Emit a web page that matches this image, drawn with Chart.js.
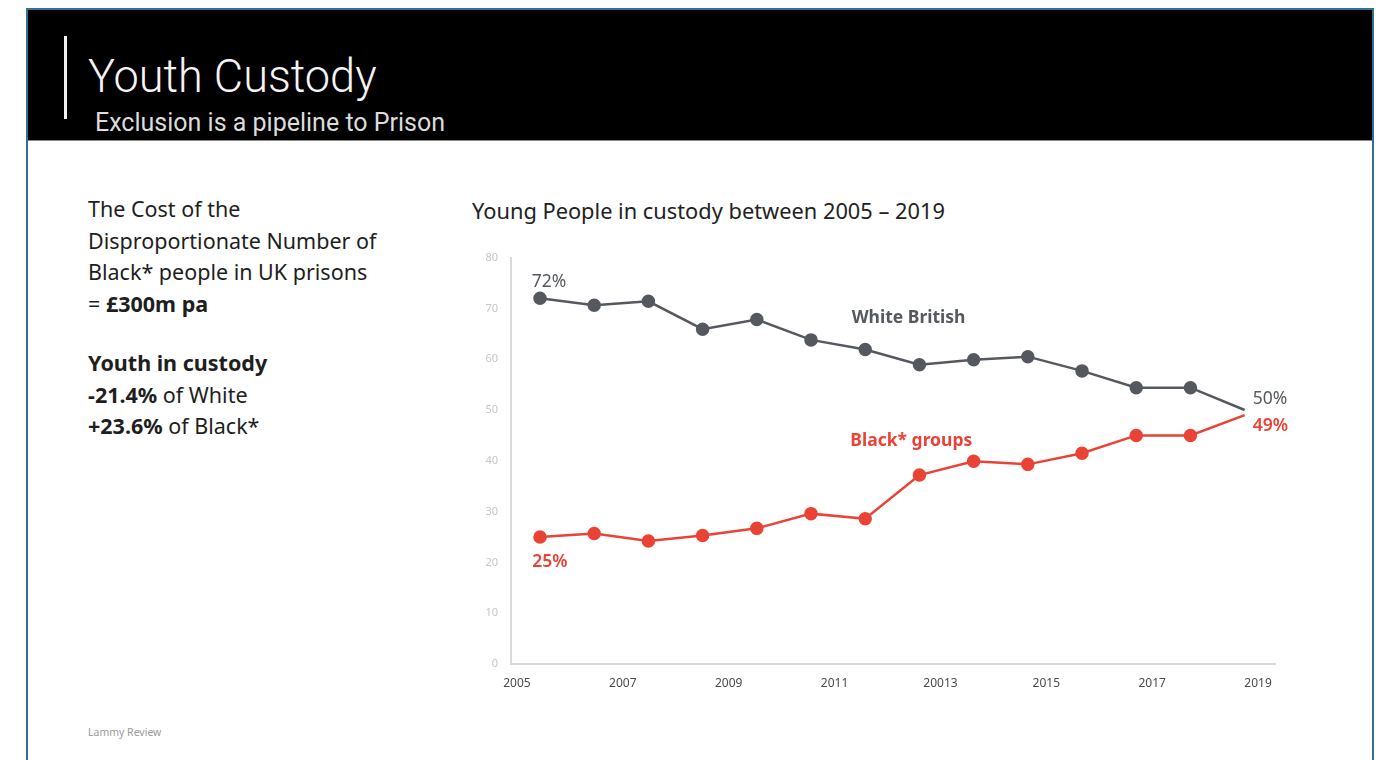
<!DOCTYPE html>
<html>
<head>
<meta charset="utf-8">
<title>Youth Custody</title>
<script src="https://cdn.jsdelivr.net/npm/chart.js@4.4.1/dist/chart.umd.min.js"></script>
<style>
  html, body { margin: 0; padding: 0; background: #fff; }
  body { width: 1389px; height: 760px; overflow: hidden; position: relative; font-family: "Noto Sans", sans-serif; }
  .frame { position: absolute; left: 26px; top: 8px; width: 1344px; height: 800px; border: 2px solid #2f7394; background: #fff; }
  .header { position: absolute; left: 0; top: 0; width: 100%; height: 130px; background: #000; border-bottom: 1px solid #8a8a8a; }
  .bar { position: absolute; left: 36px; top: 26px; width: 3px; height: 83px; background: #f2f2f2; }
  .title { position: absolute; left: 60px; top: 38px; color: #f4f4f4; font-family: Roboto, sans-serif; font-weight: 300; font-size: 46px; line-height: 56px; transform: scaleX(0.98); transform-origin: left top; white-space: nowrap; }
  .subtitle { position: absolute; left: 67px; top: 98px; color: #dcdcdc; font-family: Roboto, sans-serif; font-weight: 400; font-size: 25px; line-height: 30px; white-space: nowrap; }
  .side { position: absolute; left: 60px; top: 183px; color: #1e1e1e; font-size: 21.5px; line-height: 31.5px; white-space: nowrap; }
  .side b { font-weight: 700; }
  .side .gap { height: 28px; }
  .chart-title { position: absolute; left: 444px; top: 186px; color: #222; font-size: 21.8px; white-space: nowrap; }
  .source { position: absolute; left: 60px; top: 715px; color: #9a9a9a; font-size: 10.5px; }
  #custody { position: absolute; left: 442px; top: 228px; }
</style>
</head>
<body>
<div class="frame">
  <div class="header">
    <div class="bar"></div>
    <div class="title">Youth Custody</div>
    <div class="subtitle">Exclusion is a pipeline to Prison</div>
  </div>
  <div class="side">
    The Cost of the<br>
    Disproportionate Number of<br>
    Black* people in UK prisons<br>
    = <b>£300m pa</b>
    <div class="gap"></div>
    <b>Youth in custody</b><br>
    <b>-21.4%</b> of White<br>
    <b>+23.6%</b> of Black*
  </div>
  <div class="chart-title">Young People in custody between 2005 – 2019</div>
  <div class="source">Lammy Review</div>
  <canvas id="custody" width="840" height="459"></canvas>
</div>

<script>
// financial years covered by the custody figures
const periods = ['2005/06', '2006/07', '2007/08', '2008/09', '2009/10', '2010/11', '2011/12',
  '2012/13', '2013/14', '2014/15', '2015/16', '2016/17', '2017/18', '2018/19'];

// share of young people in custody (%)
const whiteBritish = [72, 70.6, 71.4, 65.9, 67.8, 63.8, 61.9, 58.9, 59.9, 60.5, 57.7, 54.4, 54.4, 50];
const blackGroups = [25, 25.7, 24.2, 25.3, 26.7, 29.6, 28.6, 37.2, 39.9, 39.3, 41.5, 45.0, 45.0, 49];

// year axis underneath
const yearTicks = [2005, 2007, 2009, 2011, 2013, 2015, 2017, 2019];
const yearTickLabels = ['2005', '2007', '2009', '2011', '20013', '2015', '2017', '2019'];
const valueTicks = [0, 10, 20, 30, 40, 50, 60, 70, 80];

const GREY = '#55595f';
const RED = '#ea4335';

function toPoints(values) {
  return values.map(function (v, i) { return { x: i, y: v }; });
}

// no marker on the last point of each line
function endRadius(values) {
  return values.map(function (v, i) { return i === values.length - 1 ? 0 : 5.5; });
}

// text labels sitting on the plot, placed in axis units
const seriesLabels = {
  id: 'seriesLabels',
  afterDatasetsDraw(chart) {
    const ctx = chart.ctx;
    const x = chart.scales.x;
    const y = chart.scales.y;
    const last = periods.length - 1;
    const items = [
      { text: whiteBritish[0] + '%', px: x.getPixelForValue(0) + 9, py: y.getPixelForValue(whiteBritish[0]) - 16, color: GREY, weight: '400', align: 'center' },
      { text: blackGroups[0] + '%', px: x.getPixelForValue(0) + 10, py: y.getPixelForValue(blackGroups[0]) + 25, color: RED, weight: '600', align: 'center' },
      { text: whiteBritish[last] + '%', px: x.getPixelForValue(last) + 8, py: y.getPixelForValue(whiteBritish[last]) - 11, color: GREY, weight: '400', align: 'left' },
      { text: blackGroups[last] + '%', px: x.getPixelForValue(last) + 8, py: y.getPixelForValue(blackGroups[last]) + 11, color: RED, weight: '600', align: 'left' },
      { text: 'White British', px: x.getPixelForValue(6.8), py: y.getPixelForValue(68.2), color: GREY, weight: '700', align: 'center' },
      { text: 'Black* groups', px: x.getPixelForValue(6.85), py: y.getPixelForValue(43.8), color: RED, weight: '700', align: 'center' }
    ];
    ctx.save();
    ctx.textBaseline = 'middle';
    items.forEach(function (it) {
      ctx.font = it.weight + ' 17.5px "Noto Sans", sans-serif';
      ctx.fillStyle = it.color;
      ctx.textAlign = it.align;
      ctx.fillText(it.text, it.px, it.py);
    });
    ctx.restore();
  }
};

new Chart(document.getElementById('custody'), {
  type: 'line',
  data: {
    datasets: [
      {
        label: 'White British',
        data: toPoints(whiteBritish),
        borderColor: GREY,
        backgroundColor: GREY,
        borderWidth: 2.5,
        pointRadius: endRadius(whiteBritish),
        pointHoverRadius: 0,
        clip: false
      },
      {
        label: 'Black* groups',
        data: toPoints(blackGroups),
        borderColor: RED,
        backgroundColor: RED,
        borderWidth: 2.5,
        pointRadius: endRadius(blackGroups),
        pointHoverRadius: 0,
        clip: false
      }
    ]
  },
  options: {
    responsive: false,
    animation: false,
    layout: { padding: { top: 3, right: 35, left: 0, bottom: 0 } },
    plugins: { legend: { display: false }, tooltip: { enabled: false } },
    scales: {
      x: {
        type: 'linear',
        display: false,
        min: -0.535,
        max: 13.56
      },
      years: {
        type: 'linear',
        position: 'bottom',
        min: 2004.887,
        max: 2019.32,
        afterBuildTicks(scale) {
          scale.ticks = yearTicks.map(function (v) { return { value: v }; });
        },
        afterFit(scale) { scale.height = 33; },
        grid: { display: false, drawTicks: false },
        border: { display: true, color: '#dadada', width: 2 },
        ticks: {
          padding: 12,
          color: '#4a4a4a',
          font: { size: 12, family: '"Noto Sans", sans-serif' },
          maxRotation: 0,
          autoSkip: false,
          callback(value) {
            return yearTickLabels[yearTicks.indexOf(value)];
          }
        }
      },
      y: {
        min: 0,
        max: 80,
        afterBuildTicks(scale) {
          scale.ticks = valueTicks.map(function (v) { return { value: v }; });
        },
        afterFit(scale) { scale.width = 41; },
        grid: { display: false, drawTicks: false },
        border: { display: true, color: '#dadada', width: 2 },
        ticks: {
          padding: 13,
          color: '#c6c6c6',
          font: { size: 11, family: '"Noto Sans", sans-serif' }
        }
      }
    }
  },
  plugins: [seriesLabels]
});
</script>
</body>
</html>
